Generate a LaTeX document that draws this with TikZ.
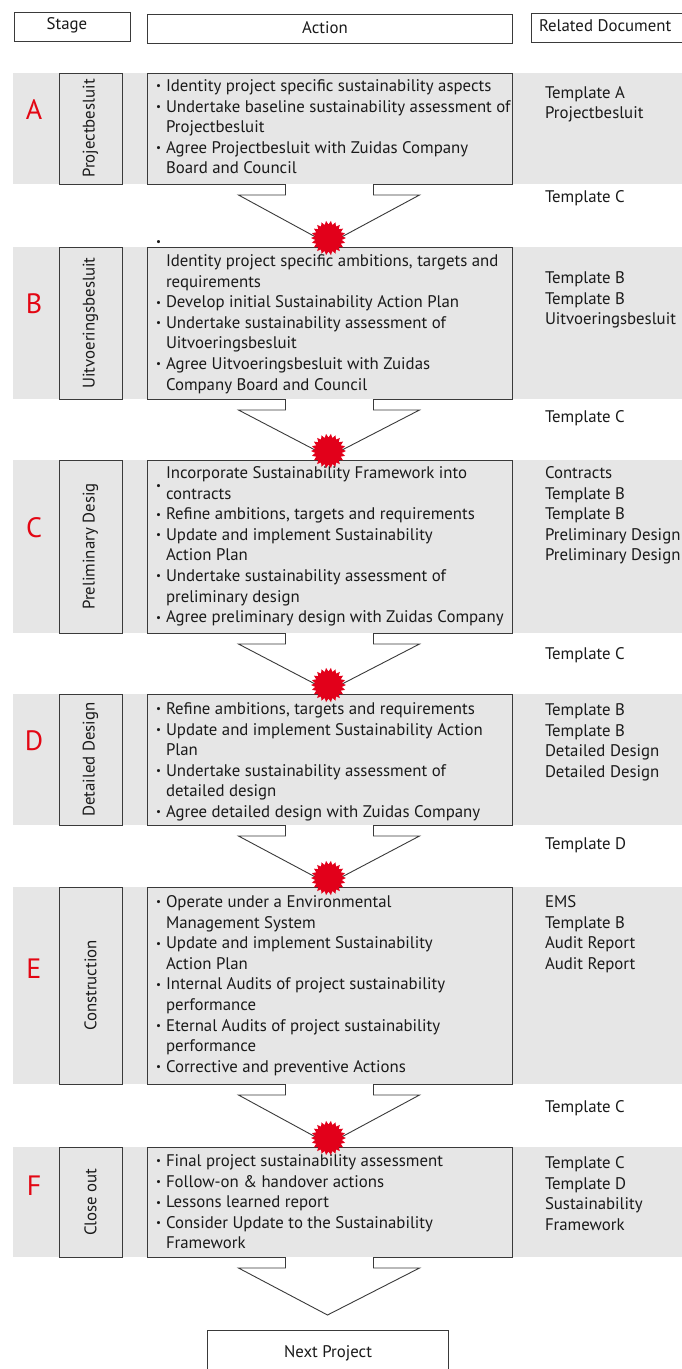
\documentclass[tikz,border=0pt]{standalone}
\usepackage{fontspec}
\setmainfont{PT Sans}
\usetikzlibrary{shapes.geometric,calc}
\definecolor{bandgray}{HTML}{E6E6E6}
\definecolor{edge}{HTML}{3A3A3A}
\definecolor{stagered}{HTML}{E30613}
\definecolor{starred}{HTML}{E2001A}
\definecolor{ink}{HTML}{1A1A1A}
\newcommand{\smalldot}{\raisebox{1.6pt}{\fontsize{11}{11}\selectfont\textbullet}}
\newcommand{\itemdot}{\makebox[11pt][l]{\hspace*{1pt}\smalldot}}
\newcommand{\itemgap}{\hspace*{11pt}}
\begin{document}
\begin{tikzpicture}[x=1pt,y=-1pt,
  every node/.style={inner sep=0pt, outer sep=0pt, text=ink},
  body/.style={font=\fontsize{16.8}{20.6}\selectfont},
  hdr/.style={draw=edge, line width=1pt, fill=white, anchor=north west},
  actbox/.style={draw=edge, line width=1pt, fill=bandgray, anchor=north west, minimum width=365pt},
  stagebox/.style={draw=edge, line width=1pt, fill=bandgray, anchor=north west, minimum width=63pt},
  lines/.style={body, align=left, anchor=base west},
  letter/.style={font=\fontsize{28}{28}\selectfont, text=stagered, anchor=base},
  stagelabel/.style={body, rotate=90},
  burst/.style={star, star points=22, star point ratio=0.78, fill=starred, minimum size=27pt, draw=none},
  flow/.style={draw=edge, line width=0.9pt, fill=white, line join=miter},
]
\useasboundingbox (0,0) rectangle (681,1369);

% headers
\node[hdr, minimum width=116pt, minimum height=29pt] (hStage) at (14,12) {};
\node[body, anchor=base] (tStage) at (67,29.5) {Stage};
\node[hdr, minimum width=365pt, minimum height=29pt] (hAction) at (147,14) {};
\node[body, anchor=base] (tAction) at (325,33.5) {Action};
\node[hdr, minimum width=170pt, minimum height=29pt] (hRel) at (531,13) {};
\node[body, anchor=base west] (tRel) at (539,31.5) {Related Document};

% bands
\fill[bandgray] (13,73) rectangle (690,184);
\fill[bandgray] (13,247) rectangle (690,399);
\fill[bandgray] (13,460) rectangle (690,633);
\fill[bandgray] (13,694) rectangle (690,825);
\fill[bandgray] (13,887) rectangle (690,1084);
\fill[bandgray] (13,1147) rectangle (690,1257);

% stage boxes
\node[stagebox, minimum height=111pt] (stA) at (59,73) {};
\node[stagebox, minimum height=152pt] (stB) at (59,247) {};
\node[stagebox, minimum height=173pt] (stC) at (59,460) {};
\node[stagebox, minimum height=131pt] (stD) at (59,694) {};
\node[stagebox, minimum height=197pt] (stE) at (59,887) {};
\node[stagebox, minimum height=110pt] (stF) at (59,1147) {};
\node[stagelabel] (lA) at (stA.center) {Projectbesluit};
\node[stagelabel] (lB) at (stB.center) {Uitvoeringsbesluit};
\node[stagelabel] (lC) at (stC.center) {Preliminary Desig};
\node[stagelabel] (lD) at (stD.center) {Detailed Design};
\node[stagelabel] (lE) at (stE.center) {Construction};
\node[stagelabel] (lF) at (stF.center) {Close out};

% letters
\node[letter] (gA) at (34,119.5) {A};
\node[letter] (gB) at (34,313) {B};
\node[letter] (gC) at (34,537) {C};
\node[letter] (gD) at (34,750) {D};
\node[letter] (gE) at (34,978) {E};
\node[letter] (gF) at (34,1195) {F};

% action boxes
\node[actbox, minimum height=111pt] (actA) at (147,73) {};
\node[actbox, minimum height=152pt] (actB) at (147,247) {};
\node[actbox, minimum height=173pt] (actC) at (147,460) {};
\node[actbox, minimum height=131pt] (actD) at (147,694) {};
\node[actbox, minimum height=197pt] (actE) at (147,887) {};
\node[actbox, minimum height=110pt] (actF) at (147,1147) {};

% action texts (anchor = baseline of the last line)
\node[lines] (xA) at (155,173.9) {\itemdot Identity project specific sustainability aspects\\
\itemdot Undertake baseline sustainability assessment of\\
\itemgap Projectbesluit\\
\itemdot Agree Projectbesluit with Zuidas Company\\
\itemgap Board and Council};
\node[body, anchor=base west] (strayB) at (155,247) {\itemdot};
\node[lines] (xB) at (155,390.1) {\itemgap Identity project specific ambitions, targets and\\
\itemgap requirements\\
\itemdot Develop initial Sustainability Action Plan\\
\itemdot Undertake sustainability assessment of\\
\itemgap Uitvoeringsbesluit\\
\itemdot Agree Uitvoeringsbesluit with Zuidas\\
\itemgap Company Board and Council};
\node[body, anchor=base west] (dotC) at (155,491) {\itemdot};
\node[lines] (xC) at (155,622.7) {\itemgap Incorporate Sustainability Framework into\\
\itemgap contracts\\
\itemdot Refine ambitions, targets and requirements\\
\itemdot Update and implement Sustainability\\
\itemgap Action Plan\\
\itemdot Undertake sustainability assessment of\\
\itemgap preliminary design\\
\itemdot Agree preliminary design with Zuidas Company};
\node[lines] (xD) at (155,817.5) {\itemdot Refine ambitions, targets and requirements\\
\itemdot Update and implement Sustainability Action\\
\itemgap Plan\\
\itemdot Undertake sustainability assessment of\\
\itemgap detailed design\\
\itemdot Agree detailed design with Zuidas Company};
\node[lines] (xE) at (155,1072.3) {\itemdot Operate under a Environmental\\
\itemgap Management System\\
\itemdot Update and implement Sustainability\\
\itemgap Action Plan\\
\itemdot Internal Audits of project sustainability\\
\itemgap performance\\
\itemdot Eternal Audits of project sustainability\\
\itemgap performance\\
\itemdot Corrective and preventive Actions};
\node[lines] (xF) at (155,1248.9) {\itemdot Final project sustainability assessment\\
\itemdot Follow-on \& handover actions\\
\itemdot Lessons learned report\\
\itemdot Consider Update to the Sustainability\\
\itemgap Framework};

% related documents
\node[lines] (rA) at (545,118.6) {Template A\\Projectbesluit};
\node[lines] (rB) at (545,324.7) {Template B\\Template B\\Uitvoeringsbesluit};
\node[lines] (rC) at (545,560.9) {Contracts\\Template B\\Template B\\Preliminary Design\\Preliminary Design};
\node[lines] (rD) at (545,777.3) {Template B\\Template B\\Detailed Design\\Detailed Design};
\node[lines] (rE) at (545,969.3) {EMS\\Template B\\Audit Report\\Audit Report};
\node[lines] (rF) at (545,1230.3) {Template C\\Template D\\Sustainability\\Framework};
\node[lines] (tAB) at (545,202.5) {Template C};
\node[lines] (tBC) at (545,422.5) {Template C};
\node[lines] (tCD) at (545,659.5) {Template C};
\node[lines] (tDE) at (545,849.5) {Template D};
\node[lines] (tEF) at (545,1112.5) {Template C};

% next project
\node[hdr, minimum width=241pt, minimum height=60pt] (nextP) at (207,1330) {};
\node[body, anchor=base] (tNext) at (328,1357.5) {Next Project};

% flow arrows
\foreach \a/\b in {actA/actB, actB/actC, actC/actD, actD/actE, actE/actF}{
  \draw[flow] ([xshift=-44pt]\a.south) -- ([xshift=-44pt,yshift=-11pt]\a.south)
    -- ([xshift=-91pt,yshift=-11pt]\a.south) -- ([xshift=-1pt,yshift=3pt]\b.north)
    -- ([xshift=90pt,yshift=-11pt]\a.south) -- ([xshift=44pt,yshift=-11pt]\a.south)
    -- ([xshift=44pt]\a.south);
  \node[burst] (s\b) at ([xshift=-1pt,yshift=9pt]\b.north) {};
}
\draw[flow] ([xshift=-44pt]actF.south) -- ([xshift=-44pt,yshift=-11pt]actF.south)
    -- ([xshift=-91pt,yshift=-11pt]actF.south) -- ([yshift=15pt]nextP.north)
    -- ([xshift=90pt,yshift=-11pt]actF.south) -- ([xshift=44pt,yshift=-11pt]actF.south)
    -- ([xshift=44pt]actF.south);
\end{tikzpicture}
\end{document}
